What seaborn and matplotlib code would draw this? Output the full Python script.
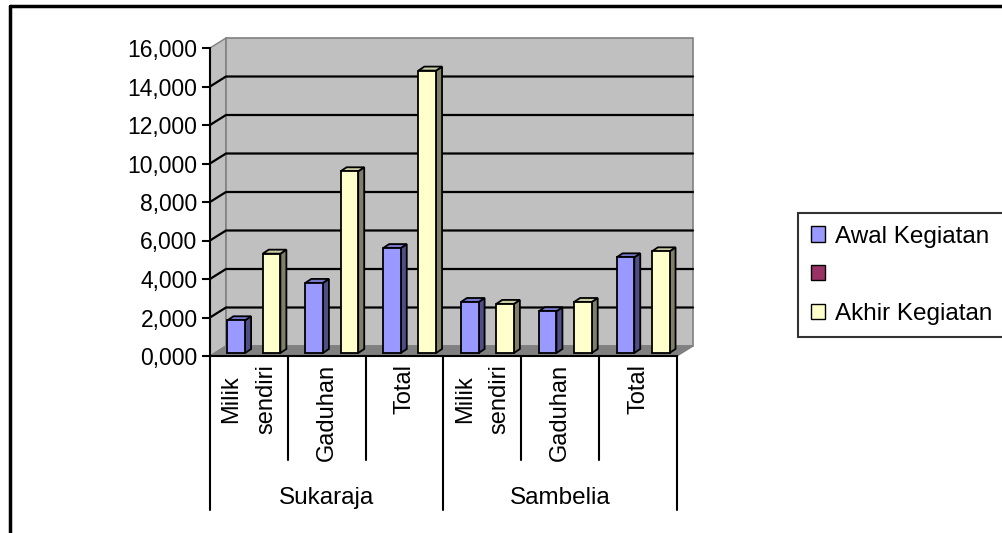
import numpy as np
import pandas as pd
import matplotlib
matplotlib.use("Agg")
import matplotlib.pyplot as plt
import matplotlib.transforms as mtransforms
from matplotlib.patches import Polygon, Patch
from matplotlib.lines import Line2D
import seaborn as sns

# ---------------- data ----------------
groups = ["Sukaraja", "Sambelia"]
categories = ["Milik\nsendiri", "Gaduhan", "Total"]
series = ["Awal Kegiatan", " ", "Akhir Kegiatan"]
awal = [1700, 3640, 5450, 2650, 2170, 4970]
kosong = [np.nan, np.nan, np.nan, np.nan, np.nan, np.nan]
akhir = [5160, 9440, 14670, 2550, 2650, 5280]
yticks = [0, 2000, 4000, 6000, 8000, 10000, 12000, 14000, 16000]
ytick_labels = ["0,000", "2,000", "4,000", "6,000", "8,000",
                "10,000", "12,000", "14,000", "16,000"]

front_colors = ["#9999FF", "#993366", "#FFFFCC"]
side_colors = ["#4F4F85", "#4D1A33", "#80806A"]
top_colors = ["#7777CC", "#772850", "#CCCCA6"]

keys = [f"{g}|{c}" for g in groups for c in categories]
rows = []
for vals, s in zip([awal, kosong, akhir], series):
    for k, v in zip(keys, vals):
        rows.append({"pos": k, "series": s, "value": v})
df = pd.DataFrame(rows)

# ---------------- figure ----------------
sns.set_style("white")
plt.rcParams["font.family"] = ["Liberation Sans", "DejaVu Sans"]
plt.rcParams["text.color"] = "black"
plt.rcParams["xtick.color"] = "black"
plt.rcParams["ytick.color"] = "black"
plt.rcParams["xtick.labelcolor"] = "black"
plt.rcParams["ytick.labelcolor"] = "black"
W, H = 1003, 533
fig = plt.figure(figsize=(W / 100, H / 100), dpi=100)
FX0, FX1, FY0, FY1 = 210, 677, 356, 48   # front plane in pixels (top-down y)
ax = fig.add_axes([FX0 / W, (H - FY0) / H, (FX1 - FX0) / W, (FY0 - FY1) / H])
ax.set_facecolor("none")

palette = dict(zip(series, front_colors))
sns.barplot(data=df, x="pos", y="value", hue="series", hue_order=series,
            order=keys, palette=palette, width=0.68, edgecolor="black",
            linewidth=1.3, saturation=1, errorbar=None, legend=False,
            ax=ax, zorder=3)
ax.set_xlim(-0.5, 5.5)
ax.set_ylim(0, 16000)

# depth offsets (display pixels; +y is up)
DX, DY = 16, 10        # wall depth
BX, BY = 5, 3          # bar plane shift
SX, SY = 6, 4          # bar depth
ident = mtransforms.IdentityTransform()
td = ax.transData

def d(x, y):
    return td.transform((x, y))

x0d, y0d = d(-0.5, 0)
x1d, y1d = d(5.5, 16000)

# floor
ax.add_patch(Polygon([(x0d, y0d), (x1d, y0d), (x1d + DX, y0d + DY), (x0d + DX, y0d + DY)],
                     closed=True, transform=ident, fc="#808080", ec="#808080",
                     lw=1, zorder=0.5, clip_on=False))
# left wall
ax.add_patch(Polygon([(x0d, y0d), (x0d + DX, y0d + DY), (x0d + DX, y1d + DY), (x0d, y1d)],
                     closed=True, transform=ident, fc="#C0C0C0", ec="#808080",
                     lw=1, zorder=0.4, clip_on=False))
# back wall
ax.add_patch(Polygon([(x0d + DX, y0d + DY), (x1d + DX, y0d + DY), (x1d + DX, y1d + DY), (x0d + DX, y1d + DY)],
                     closed=True, transform=ident, fc="#C0C0C0", ec="#808080",
                     lw=1.2, zorder=0.4, clip_on=False))
# gridlines on walls
for v in yticks[1:-1]:
    _, yv = d(0, v)
    ax.add_line(Line2D([x0d, x0d + DX, x1d + DX], [yv, yv + DY, yv + DY],
                       transform=ident, color="black", lw=1.6, zorder=0.6,
                       clip_on=False))

# bars with 3D faces
shift = mtransforms.Affine2D().translate(BX, BY)
for p in list(ax.patches):
    if not hasattr(p, "get_height") or p.get_zorder() != 3:
        continue
    h = p.get_height()
    if h is None or np.isnan(h):
        continue
    fc = matplotlib.colors.to_hex(p.get_facecolor())
    idx = [c.lower() for c in front_colors].index(fc.lower())
    p.set_transform(td + shift)
    xa, xb = p.get_x(), p.get_x() + p.get_width()
    (pxl, pyb) = d(xa, 0)
    (pxr, pyt) = d(xb, h)
    pxl += BX; pxr += BX; pyb += BY; pyt += BY
    side = Polygon([(pxr, pyb), (pxr + SX, pyb + SY), (pxr + SX, pyt + SY), (pxr, pyt)],
                   closed=True, transform=ident, fc=side_colors[idx], ec="black",
                   lw=1.3, zorder=2.9, clip_on=False)
    top = Polygon([(pxl, pyt), (pxl + SX, pyt + SY), (pxr + SX, pyt + SY), (pxr, pyt)],
                  closed=True, transform=ident, fc=top_colors[idx], ec="black",
                  lw=1.3, zorder=2.9, clip_on=False)
    ax.add_patch(side)
    ax.add_patch(top)

# axes styling
for s in ["top", "right"]:
    ax.spines[s].set_visible(False)
for s in ["left", "bottom"]:
    ax.spines[s].set_color("black")
    ax.spines[s].set_linewidth(1.5)
    ax.spines[s].set_zorder(4)
ax.set_yticks(yticks, ytick_labels)
ax.tick_params(axis="y", direction="out", length=6, width=1.5, color="black",
               labelsize=16.5, pad=3, left=True, labelcolor="black")
ax.set_xticks(range(len(keys)), categories * len(groups))
ax.tick_params(axis="x", length=0, pad=6, labelsize=17, labelcolor="black")
for lab in ax.get_xticklabels():
    lab.set_rotation(90)
    lab.set_ha("center")
    lab.set_va("top")
    lab.set_multialignment("center")
    lab.set_linespacing(1.75)
ax.set_xlabel("")
ax.set_ylabel("")

# category dividers and group labels
xt = ax.get_xaxis_transform()
inner_bot = (FY0 - 460) / (FY0 - FY1)
outer_bot = (FY0 - 510) / (FY0 - FY1)
for i in range(len(keys) + 1):
    xpos = i - 0.5
    ybot = outer_bot if i % len(categories) == 0 else inner_bot
    ax.add_line(Line2D([xpos, xpos], [0, ybot], transform=xt, color="black",
                       lw=1.5, clip_on=False))
for gi, g in enumerate(groups):
    cx = gi * len(categories) + (len(categories) - 1) / 2
    ax.text(cx, (FY0 - 498) / (FY0 - FY1), g, transform=xt, ha="center",
            va="center", fontsize=17.5, color="black")

# legend
handles = [Patch(facecolor=c, edgecolor="black", linewidth=1.0) for c in front_colors]
leg = fig.legend(handles, series, loc="upper left",
                 bbox_to_anchor=(798 / W, 1 - 213 / H), frameon=True,
                 fancybox=False, edgecolor="black", fontsize=17.5,
                 handlelength=0.58, handleheight=0.58, handletextpad=0.42,
                 labelspacing=0.68, borderpad=0.52, borderaxespad=0)
leg.get_frame().set_linewidth(1.5)
for t in leg.get_texts():
    t.set_color("black")

# outer chart frame
fig.add_artist(Line2D([10 / W, 10 / W], [-0.1, 1 - 6 / H], transform=fig.transFigure,
                      color="black", lw=2.5))
fig.add_artist(Line2D([10 / W, 1.1], [1 - 6 / H, 1 - 6 / H], transform=fig.transFigure,
                      color="black", lw=2.5))

fig.savefig("out.png", dpi=100, facecolor="white")
